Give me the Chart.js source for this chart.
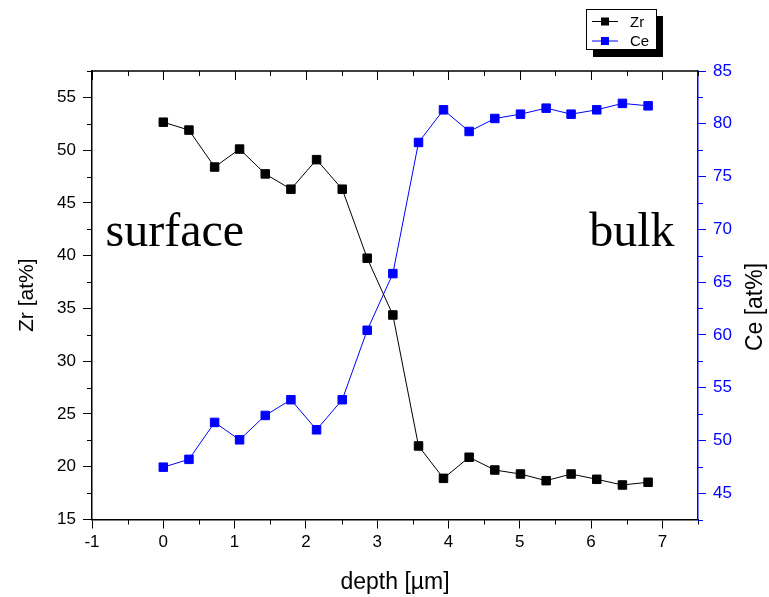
<!DOCTYPE html>
<html>
<head>
<meta charset="utf-8">
<script src="https://cdn.jsdelivr.net/npm/chart.js@4"></script>
<style>
  html, body { margin: 0; padding: 0; background: #fff; }
  #wrap { width: 769px; height: 597px; }
</style>
</head>
<body>
<div id="wrap"><canvas id="depthChart"></canvas></div>
<script>
// depth profile
const depth = [0, 0.36, 0.72, 1.07, 1.43, 1.79, 2.15, 2.51, 2.86, 3.22, 3.58, 3.93, 4.29, 4.65, 5.01, 5.37, 5.72, 6.08, 6.44, 6.8];
const zr = [52.65, 51.9, 48.4, 50.1, 47.75, 46.3, 49.1, 46.3, 39.76, 34.38, 21.97, 18.9, 20.9, 19.69, 19.31, 18.68, 19.31, 18.81, 18.27, 18.53];
const ce = [47.46, 48.2, 51.7, 50.05, 52.36, 53.85, 51.0, 53.85, 60.43, 65.8, 78.23, 81.32, 79.27, 80.5, 80.91, 81.48, 80.91, 81.32, 81.93, 81.7];

const seriesNames = ["Zr", "Ce"];
const notes = [
    { text: "surface", x: -0.81, y: 40.9, align: "left" },
    { text: "bulk", x: 7.17, y: 40.9, align: "right" }
];

const SANS = "'Liberation Sans', Arial, sans-serif";
const BLUE = "#0000ff";

function line(ctx, x1, y1, x2, y2) {
    ctx.beginPath();
    ctx.moveTo(x1, y1);
    ctx.lineTo(x2, y2);
    ctx.stroke();
}

// minor ticks, top axis, extra title, texts and the boxed legend
const decor = {
    id: "decor",
    afterDraw(chart) {
        const { ctx, chartArea: a, scales: { x, y, y2 } } = chart;
        ctx.save();

        // top axis
        ctx.strokeStyle = "#000";
        ctx.lineWidth = 1.5;
        line(ctx, a.left, a.top, a.right, a.top);
        ctx.lineWidth = 1;
        for (let v = x.min; v <= x.max + 1e-9; v += 0.5) {
            const px = Math.round(x.getPixelForValue(v)) + 0.5;
            const major = Math.abs(v - Math.round(v)) < 1e-9;
            line(ctx, px, a.top, px, a.top + (major ? 9 : 5));
            if (!major) line(ctx, px, a.bottom, px, a.bottom + 5);
        }
        for (let v = y.min + 2.5; v <= y.max + 1e-9; v += 5) {
            const py = Math.round(y.getPixelForValue(v)) + 0.5;
            line(ctx, a.left, py, a.left - 5, py);
        }
        ctx.strokeStyle = BLUE;
        for (let v = y2.min; v <= y2.max + 1e-9; v += 5) {
            const py = Math.round(y2.getPixelForValue(v)) + 0.5;
            line(ctx, a.right, py, a.right + 5, py);
        }

        // right title reads upwards
        ctx.fillStyle = "#000";
        ctx.font = "23px " + SANS;
        ctx.textAlign = "center";
        ctx.textBaseline = "middle";
        ctx.translate(756, 307);
        ctx.rotate(-Math.PI / 2);
        ctx.fillText("Ce [at%]", 0, 0);
        ctx.setTransform(1, 0, 0, 1, 0, 0);

        // surface / bulk
        ctx.font = "48px 'Liberation Serif', 'Times New Roman', serif";
        ctx.textBaseline = "alphabetic";
        notes.forEach(n => {
            ctx.textAlign = n.align;
            ctx.fillText(n.text, x.getPixelForValue(n.x), y.getPixelForValue(n.y));
        });

        // legend box with shadow
        ctx.fillStyle = "#000";
        ctx.fillRect(593, 16, 70, 41);
        ctx.fillStyle = "#fff";
        ctx.fillRect(586.5, 9.5, 70, 40);
        ctx.strokeStyle = "#000";
        ctx.lineWidth = 1;
        ctx.strokeRect(586.5, 9.5, 70, 40);
        ctx.font = "15px " + SANS;
        ctx.textAlign = "left";
        ctx.textBaseline = "middle";
        chart.data.datasets.forEach((ds, i) => {
            const ry = 21.5 + i * 19.5;
            ctx.strokeStyle = ds.borderColor;
            line(ctx, 592, ry, 618, ry);
            ctx.fillStyle = ds.backgroundColor;
            ctx.fillRect(601, ry - 4, 8, 8);
            ctx.fillStyle = "#000";
            ctx.fillText(ds.label, 630, ry + 1);
        });
        ctx.restore();
    }
};

new Chart(document.getElementById("depthChart"), {
    type: "line",
    data: {
        datasets: [
            {
                label: seriesNames[0],
                data: depth.map((d, i) => ({ x: d, y: zr[i] })),
                yAxisID: "y",
                borderColor: "#000",
                backgroundColor: "#000",
                borderWidth: 1,
                pointStyle: "rect",
                pointRadius: 6,
                pointBorderWidth: 1,
                tension: 0
            },
            {
                label: seriesNames[1],
                data: depth.map((d, i) => ({ x: d, y: ce[i] })),
                yAxisID: "y2",
                borderColor: BLUE,
                backgroundColor: BLUE,
                borderWidth: 1,
                pointStyle: "rect",
                pointRadius: 6,
                pointBorderWidth: 1,
                tension: 0
            }
        ]
    },
    options: {
        responsive: true,
        maintainAspectRatio: false,
        animation: false,
        layout: { padding: { top: 71, left: 0, right: 0, bottom: 0 } },
        plugins: {
            legend: { display: false },
            tooltip: { enabled: false }
        },
        scales: {
            x: {
                type: "linear",
                min: -1,
                max: 7.5,
                afterFit: s => { s.height = 77.5; },
                border: { display: true, color: "#000", width: 1.5 },
                grid: { drawOnChartArea: false, drawTicks: true, tickLength: 9, color: "#000" },
                ticks: { stepSize: 1, includeBounds: false, color: "#000", padding: 4, font: { size: 17, family: SANS } },
                title: { display: true, text: "depth [µm]", color: "#000", padding: { top: 0, bottom: 1 }, font: { size: 23, family: SANS } }
            },
            y: {
                position: "left",
                min: 15,
                max: 57.5,
                afterFit: s => { s.width = 92; },
                border: { display: true, color: "#000", width: 1.5 },
                grid: { drawOnChartArea: false, drawTicks: true, tickLength: 9, color: "#000" },
                ticks: { stepSize: 5, includeBounds: false, color: "#000", padding: 7, font: { size: 17, family: SANS } },
                title: { display: true, text: "Zr [at%]", color: "#000", padding: { top: 15, bottom: 0 }, font: { size: 21, family: SANS } }
            },
            y2: {
                position: "right",
                min: 42.5,
                max: 85,
                afterFit: s => { s.width = 71; },
                border: { display: true, color: BLUE, width: 1.5 },
                grid: { drawOnChartArea: false, drawTicks: true, tickLength: 8, color: BLUE },
                ticks: { stepSize: 5, includeBounds: false, color: BLUE, padding: 7, font: { size: 17, family: SANS } }
            }
        }
    },
    plugins: [decor]
});
</script>
</body>
</html>
